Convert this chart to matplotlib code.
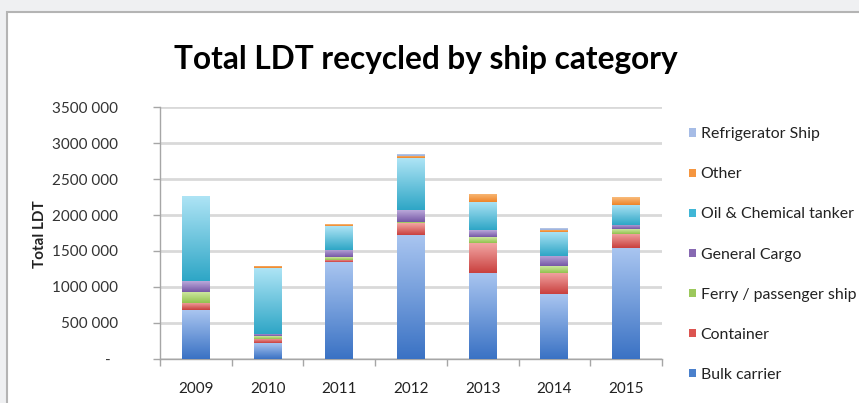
import numpy as np
import matplotlib.pyplot as plt
from matplotlib.colors import LinearSegmentedColormap
from matplotlib.patches import Patch, Rectangle
from matplotlib.ticker import FixedLocator, FuncFormatter

plt.rcParams['font.family'] = ['Lato', 'DejaVu Sans']

years = ['2009', '2010', '2011', '2012', '2013', '2014', '2015']

# LDT per ship category
bulk_carrier = [680000, 220000, 1340000, 1720000, 1200000, 900000, 1540000]
container = [100000, 60000, 40000, 165000, 415000, 300000, 200000]
ferry_passenger = [150000, 40000, 40000, 20000, 75000, 85000, 65000]
general_cargo = [150000, 30000, 100000, 165000, 95000, 140000, 60000]
oil_chemical = [1180000, 910000, 325000, 720000, 390000, 335000, 280000]
other = [0, 35000, 25000, 30000, 115000, 30000, 105000]
refrigerator = [0, 0, 0, 30000, 0, 30000, 0]

series = [
    ('Bulk carrier', bulk_carrier, '#3a72c4', '#a9c5f0', '#4a80cc'),
    ('Container', container, '#c9403e', '#f2a6a4', '#dc5450'),
    ('Ferry / passenger ship', ferry_passenger, '#92c24e', '#cce69e', '#9cc85c'),
    ('General Cargo', general_cargo, '#7658a6', '#baa8da', '#8769b2'),
    ('Oil & Chemical tanker', oil_chemical, '#2ea6c6', '#aee4f5', '#40b6d6'),
    ('Other', other, '#ee8428', '#f9bc7c', '#f59640'),
    ('Refrigerator Ship', refrigerator, '#98aedb', '#ccd9f0', '#a6bce6'),
]

fig = plt.figure(figsize=(8.59, 4.03), dpi=100, facecolor='#eff0f2')
fig.patches.append(Rectangle((7 / 859, -0.1), 1.2, 1 - 12 / 403 + 0.1, transform=fig.transFigure,
                             facecolor='white', edgecolor='#b4b4b4', linewidth=1.5, zorder=-5))

ax = fig.add_axes([160 / 859, 44.3 / 403, 502 / 859, 251.4 / 403])
ax.set_facecolor('white')

x = np.arange(len(years))
width = 0.39
bottom = np.zeros(len(years))
grad = np.linspace(0, 1, 128).reshape(-1, 1)
for name, vals, c0, c1, lc in series:
    vals = np.array(vals, dtype=float)
    bars = ax.bar(x, vals, width, bottom=bottom, color=lc, edgecolor='none', zorder=3)
    cmap = LinearSegmentedColormap.from_list(name, [c0, c1])
    for b, v in zip(bars, vals):
        if v <= 0:
            continue
        x0, y0 = b.get_x(), b.get_y()
        im = ax.imshow(grad, extent=[x0, x0 + b.get_width(), y0, y0 + b.get_height()],
                       origin='lower', aspect='auto', cmap=cmap, zorder=4)
        im.set_clip_path(b)
    bottom += vals

ax.set_xlim(-0.5, len(years) - 0.5)
ax.set_ylim(0, 3500000)

ax.yaxis.set_major_locator(FixedLocator(np.arange(0, 3500001, 500000)))
ax.yaxis.set_major_formatter(FuncFormatter(
    lambda v, p: '-  ' if v == 0 else f'{int(v) // 1000} {int(v) % 1000:03d}'))
ax.grid(axis='y', color='#d9d9d9', linewidth=2, zorder=0)
ax.set_axisbelow(True)

ax.set_xticks(x, years)
ax.xaxis.set_minor_locator(FixedLocator(np.arange(-0.5, len(years), 1)))
ax.tick_params(axis='x', which='major', length=0, pad=17, labelsize=11, labelcolor='#222222')
ax.tick_params(axis='x', which='minor', length=5, color='#a6a6a6', width=1)
ax.tick_params(axis='y', length=5, color='#a6a6a6', width=1, pad=25, labelsize=11, labelcolor='#333333')

for s in ['top', 'right']:
    ax.spines[s].set_visible(False)
for s in ['left', 'bottom']:
    ax.spines[s].set_color('#a6a6a6')
    ax.spines[s].set_linewidth(1)

fig.text(426 / 859, 1 - 60 / 403, 'Total LDT recycled by ship category',
         ha='center', va='center', fontsize=22.8, fontweight='bold', color='black')
fig.text(40 / 859, 1 - 234 / 403, 'Total LDT', rotation=90, ha='center', va='center',
         fontsize=11, fontweight='bold', color='#222222')

handles = [Patch(facecolor=lc, edgecolor='none', label=name) for name, _, _, _, lc in series][::-1]
fig.legend(handles=handles, loc='upper left', bbox_to_anchor=(675 / 859, 1 - 113 / 403),
           frameon=False, fontsize=11.4, handlelength=0.42, handleheight=0.42,
           handletextpad=0.3, labelspacing=1.65, labelcolor='#222222')

fig.savefig('out.png', dpi=100, facecolor=fig.get_facecolor())
